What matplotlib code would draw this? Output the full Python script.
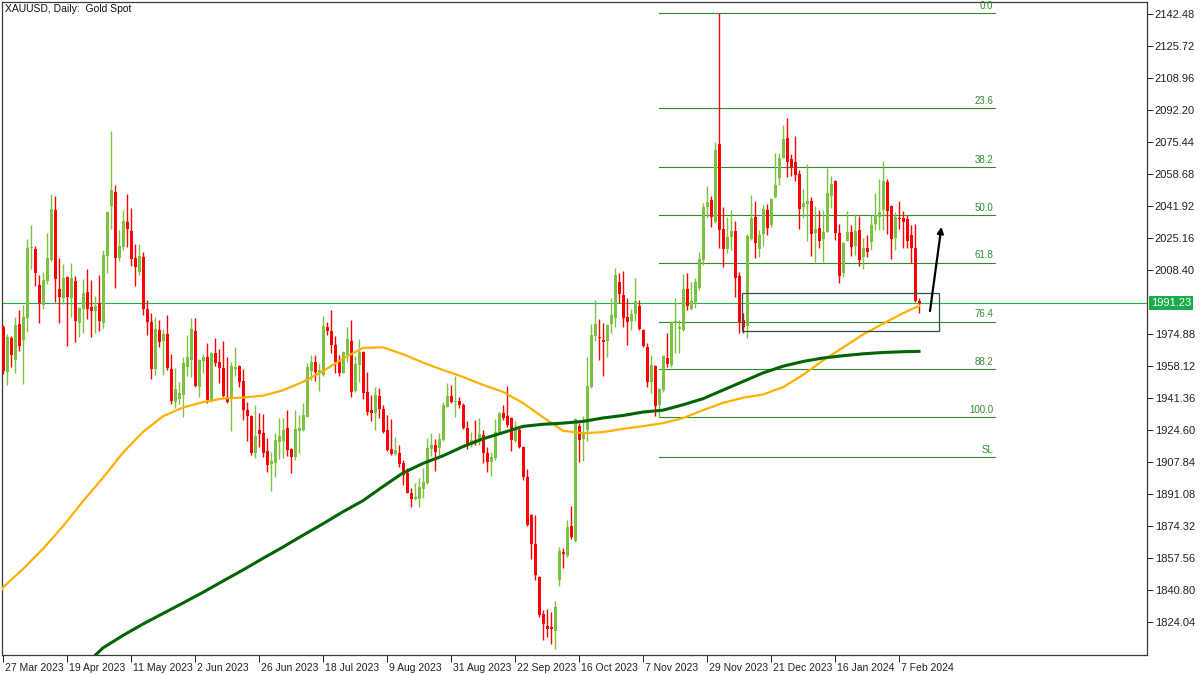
import numpy as np
import matplotlib
matplotlib.use("Agg")
import matplotlib.pyplot as plt
import matplotlib.transforms as mtransforms
from matplotlib.patches import Rectangle

plt.rcParams["font.family"] = ["Liberation Sans", "DejaVu Sans"]

# Daily XAUUSD bars, 27 Mar 2023 .. 14 Feb 2024, ten bars per row
opens = [
    1978.4, 1955.2, 1972.6, 1961.3, 1980.1, 1971.7, 1983.4, 2019.9, 2019.4, 2000.5,
    1990.1, 2002.6, 2013.6, 2039.8, 1998.4, 1993.9, 2004.7, 1993.6, 2002.6, 1980.5,
    1988.0, 1996.7, 1988.8, 1987.1, 1990.9, 1980.5, 2015.9, 2042.1, 2049.4, 2014.9,
    2020.6, 2033.4, 2028.8, 2014.9, 2007.3, 2015.2, 1988.0, 1981.2, 1956.7, 1977.0,
    1971.4, 1974.9, 1956.6, 1939.4, 1941.0, 1942.9, 1957.8, 1961.3, 1976.5, 1947.3,
    1960.7, 1963.0, 1940.3, 1964.7, 1960.2, 1956.9, 1942.1, 1941.7, 1956.5, 1958.1,
    1950.3, 1935.1, 1932.1, 1912.3, 1924.6, 1922.8, 1913.6, 1906.8, 1907.5, 1918.1,
    1919.0, 1925.8, 1914.5, 1910.3, 1924.2, 1924.6, 1931.6, 1955.5, 1960.4, 1955.1,
    1953.4, 1978.4, 1976.4, 1969.1, 1961.3, 1954.6, 1964.0, 1971.2, 1945.2, 1958.6,
    1965.6, 1944.5, 1935.1, 1933.7, 1942.4, 1935.6, 1924.6, 1914.6, 1912.0, 1912.7,
    1907.1, 1901.9, 1891.8, 1888.3, 1888.3, 1893.5, 1896.7, 1914.6, 1916.7, 1915.4,
    1919.4, 1936.8, 1942.4, 1939.1, 1940.0, 1937.7, 1925.5, 1916.7, 1919.4, 1918.5,
    1922.0, 1912.7, 1908.0, 1909.8, 1923.7, 1933.7, 1931.9, 1930.7, 1918.8, 1924.6,
    1915.9, 1900.1, 1880.1, 1864.9, 1847.8, 1828.2, 1821.9, 1821.6, 1819.5, 1846.0,
    1860.9, 1858.6, 1874.3, 1866.6, 1926.7, 1920.0, 1924.6, 1947.3, 1973.8, 1973.0,
    1971.7, 1971.2, 1980.1, 1983.4, 2001.9, 1995.3, 1983.9, 1981.8, 1985.4, 1989.5,
    1977.0, 1967.9, 1949.6, 1958.1, 1937.7, 1945.5, 1962.1, 1958.6, 1980.8, 1977.4,
    1977.0, 1998.4, 1987.9, 1991.8, 1998.8, 2013.6, 2041.2, 2045.1, 2033.7, 2074.4,
    2029.7, 2019.2, 2025.5, 2028.8, 2005.2, 1982.2, 1979.1, 2024.5, 2036.0, 2019.2,
    2027.3, 2039.8, 2031.9, 2046.5, 2056.4, 2067.2, 2077.7, 2066.4, 2064.8, 2058.7,
    2041.6, 2043.0, 2044.5, 2028.0, 2030.6, 2024.5, 2028.5, 2047.3, 2055.0, 2027.6,
    2006.7, 2023.8, 2028.1, 2021.0, 2029.4, 2015.4, 2020.1, 2023.2, 2032.5, 2036.3,
    2039.8, 2054.3, 2041.9, 2025.3, 2035.8, 2035.8, 2035.1, 2026.7, 2020.1, 1992.0,
]
highs = [
    1979.5, 1974.7, 1973.8, 1984.0, 1987.4, 1990.1, 2024.6, 2032.0, 2021.0, 2005.8,
    2007.5, 2028.0, 2048.2, 2047.2, 2014.9, 2011.5, 2005.0, 2011.9, 2005.3, 1989.2,
    2003.7, 2008.9, 2003.2, 1994.8, 2005.8, 2018.9, 2039.5, 2081.2, 2052.9, 2029.4,
    2040.0, 2048.0, 2040.7, 2022.0, 2022.0, 2017.8, 1992.7, 1986.1, 1983.8, 1982.2,
    1977.5, 1984.8, 1964.4, 1956.9, 1949.6, 1963.0, 1974.3, 1983.1, 1983.4, 1961.6,
    1964.4, 1970.0, 1965.6, 1972.9, 1967.0, 1971.2, 1963.0, 1960.0, 1968.2, 1958.6,
    1956.5, 1939.4, 1932.5, 1937.7, 1933.7, 1932.8, 1920.2, 1912.9, 1922.8, 1930.7,
    1930.7, 1935.1, 1915.0, 1935.1, 1932.4, 1938.6, 1959.5, 1963.9, 1963.9, 1959.9,
    1984.3, 1981.3, 1987.4, 1973.8, 1963.9, 1966.1, 1978.5, 1982.2, 1963.4, 1972.1,
    1966.0, 1955.1, 1942.9, 1946.9, 1946.4, 1937.7, 1932.4, 1930.2, 1921.1, 1916.7,
    1908.9, 1904.5, 1894.1, 1896.7, 1899.3, 1904.5, 1920.2, 1923.2, 1919.7, 1923.2,
    1939.4, 1949.0, 1948.2, 1953.0, 1942.1, 1938.6, 1929.3, 1923.7, 1929.8, 1930.7,
    1924.6, 1915.5, 1913.2, 1930.2, 1934.2, 1937.7, 1947.6, 1931.2, 1929.3, 1926.3,
    1916.2, 1904.2, 1880.5, 1880.1, 1848.2, 1830.3, 1830.7, 1829.4, 1835.2, 1863.5,
    1862.6, 1877.4, 1884.8, 1931.1, 1928.1, 1932.0, 1963.0, 1980.1, 1992.7, 1982.7,
    1980.5, 1980.0, 1993.9, 2009.3, 2006.6, 2007.9, 1993.6, 1987.9, 2004.4, 1992.7,
    1977.5, 1970.0, 1963.9, 1958.5, 1946.4, 1963.8, 1975.2, 1981.7, 1993.6, 1982.2,
    2006.1, 2006.6, 2002.3, 2004.0, 2018.0, 2043.3, 2052.4, 2047.1, 2075.6, 2142.8,
    2041.2, 2036.0, 2039.8, 2034.1, 2007.5, 1985.7, 2027.3, 2047.7, 2044.5, 2029.3,
    2042.4, 2043.0, 2045.9, 2069.8, 2069.8, 2084.3, 2087.8, 2069.1, 2078.6, 2060.8,
    2050.6, 2063.9, 2046.8, 2042.1, 2039.8, 2039.8, 2062.0, 2057.8, 2055.5, 2032.3,
    2022.9, 2039.3, 2032.0, 2037.7, 2036.9, 2025.3, 2026.7, 2037.2, 2048.6, 2056.1,
    2065.5, 2056.1, 2042.4, 2038.9, 2044.5, 2039.3, 2037.2, 2032.0, 2032.5, 1993.8,
]
lows = [
    1954.0, 1948.2, 1957.8, 1954.6, 1966.2, 1948.7, 1976.1, 2008.9, 2000.2, 1980.8,
    1988.0, 2000.9, 2013.3, 1991.8, 1980.5, 1990.6, 1968.8, 1984.0, 1970.9, 1973.5,
    1975.6, 1982.7, 1973.5, 1975.6, 1976.6, 1977.9, 2006.7, 2029.7, 1998.8, 2013.1,
    2018.9, 2020.6, 2010.7, 2000.2, 2005.8, 1984.8, 1974.3, 1951.5, 1953.4, 1968.3,
    1953.4, 1956.0, 1938.4, 1936.3, 1938.4, 1931.6, 1953.1, 1952.5, 1947.3, 1942.1,
    1954.3, 1938.6, 1939.4, 1958.1, 1949.0, 1942.1, 1939.0, 1924.3, 1952.9, 1947.3,
    1929.8, 1918.8, 1911.5, 1909.8, 1915.9, 1910.6, 1902.8, 1892.8, 1900.1, 1909.4,
    1909.8, 1911.2, 1902.3, 1908.9, 1912.4, 1924.2, 1931.2, 1950.8, 1950.4, 1945.2,
    1953.0, 1974.4, 1964.7, 1954.3, 1952.9, 1954.3, 1960.0, 1942.1, 1944.7, 1949.9,
    1940.7, 1932.4, 1929.5, 1924.6, 1930.7, 1922.9, 1913.8, 1911.5, 1911.5, 1905.4,
    1895.8, 1891.4, 1884.5, 1887.9, 1884.5, 1888.8, 1896.3, 1911.2, 1903.3, 1911.5,
    1919.0, 1936.5, 1938.9, 1931.6, 1935.9, 1925.0, 1914.6, 1915.9, 1916.7, 1916.7,
    1907.5, 1902.8, 1900.5, 1908.9, 1923.2, 1929.8, 1926.3, 1913.6, 1918.5, 1915.0,
    1898.4, 1874.3, 1857.0, 1846.0, 1826.8, 1814.6, 1816.4, 1812.5, 1809.7, 1842.9,
    1852.5, 1857.9, 1867.3, 1866.0, 1908.0, 1908.5, 1919.0, 1946.8, 1971.2, 1961.3,
    1953.0, 1962.7, 1975.2, 1978.7, 1990.9, 1978.7, 1969.1, 1977.0, 1981.7, 1977.0,
    1968.3, 1947.3, 1943.8, 1932.1, 1931.6, 1944.7, 1957.8, 1957.8, 1964.7, 1964.7,
    1976.4, 1987.4, 1987.4, 1988.3, 1997.9, 2011.0, 2035.4, 2031.1, 2033.0, 2019.7,
    2009.8, 2017.1, 2018.9, 1994.4, 1975.2, 1975.2, 1972.6, 2024.1, 2014.9, 2015.4,
    2021.0, 2026.7, 2031.1, 2045.9, 2052.9, 2066.9, 2057.3, 2057.6, 2055.2, 2029.7,
    2035.5, 2023.8, 2015.7, 2012.8, 2020.1, 2012.8, 2028.1, 2040.7, 2024.1, 2001.4,
    2004.9, 2023.6, 2015.7, 2016.2, 2010.5, 2008.9, 2015.4, 2018.9, 2029.4, 2029.4,
    2029.4, 2027.3, 2014.2, 2018.9, 2029.7, 2019.7, 2019.7, 2011.9, 1991.8, 1985.7,
]
closes = [
    1955.7, 1973.1, 1963.9, 1979.6, 1968.6, 1983.6, 2019.7, 2020.2, 2007.0, 1990.9,
    2003.2, 2014.9, 2040.4, 2003.9, 1994.4, 2004.0, 1994.4, 2004.0, 1981.9, 1988.3,
    1996.2, 1988.0, 1987.1, 1989.5, 1981.9, 2016.2, 2038.6, 2050.3, 2014.9, 2021.0,
    2034.1, 2029.7, 2014.3, 2010.1, 2015.9, 1988.2, 1981.3, 1956.6, 1977.5, 1970.9,
    1974.9, 1957.3, 1939.8, 1946.1, 1944.1, 1959.9, 1963.0, 1977.5, 1947.8, 1961.3,
    1963.0, 1940.3, 1965.1, 1959.9, 1956.9, 1942.4, 1939.4, 1958.1, 1957.7, 1949.9,
    1935.1, 1932.1, 1912.3, 1921.6, 1922.3, 1912.4, 1906.3, 1908.4, 1919.4, 1921.6,
    1924.6, 1914.1, 1910.6, 1925.0, 1925.5, 1932.4, 1957.4, 1960.4, 1955.1, 1956.0,
    1979.1, 1976.6, 1969.1, 1960.0, 1954.3, 1965.3, 1972.1, 1944.7, 1959.2, 1965.6,
    1944.0, 1934.2, 1933.3, 1942.9, 1935.6, 1923.7, 1914.1, 1912.0, 1914.1, 1906.8,
    1901.0, 1891.8, 1888.3, 1889.3, 1894.9, 1897.5, 1915.4, 1916.7, 1913.3, 1919.9,
    1937.7, 1942.4, 1939.4, 1940.0, 1937.7, 1925.5, 1916.7, 1919.4, 1917.6, 1922.3,
    1912.7, 1908.0, 1910.3, 1923.7, 1933.7, 1931.1, 1927.2, 1919.4, 1924.6, 1915.5,
    1899.8, 1874.8, 1864.9, 1848.6, 1827.7, 1823.0, 1820.4, 1820.2, 1832.0, 1861.2,
    1859.6, 1873.9, 1868.7, 1930.2, 1919.4, 1923.5, 1947.6, 1974.4, 1979.9, 1972.6,
    1970.5, 1979.6, 1984.8, 2005.8, 1995.8, 1983.4, 1981.3, 1985.2, 1992.2, 1977.5,
    1968.8, 1949.9, 1958.6, 1937.3, 1945.9, 1963.5, 1959.2, 1981.3, 1981.5, 1978.5,
    1998.4, 1989.7, 1992.2, 2002.3, 2014.0, 2041.2, 2044.2, 2036.0, 2071.2, 2029.3,
    2019.2, 2025.5, 2028.8, 2004.0, 1981.3, 1978.7, 2026.2, 2035.4, 2022.7, 2026.7,
    2040.2, 2030.2, 2045.4, 2052.9, 2067.2, 2076.8, 2065.1, 2062.2, 2058.1, 2040.3,
    2043.3, 2044.7, 2027.3, 2029.9, 2023.8, 2028.1, 2048.6, 2053.4, 2027.6, 2005.4,
    2022.4, 2028.5, 2020.6, 2028.8, 2013.7, 2020.1, 2018.0, 2032.0, 2037.2, 2038.9,
    2055.0, 2039.5, 2024.5, 2036.0, 2034.9, 2033.7, 2023.8, 2019.7, 1992.2, 1991.23,
]

ma_fast_bars = [-1] + list(range(0, 230, 5)) + [229]
ma_fast = [1838.5,
           1842.2, 1851.8, 1862.4, 1874.2, 1887.3, 1899.6, 1912.8, 1923.6, 1931.8, 1936.4,
           1939.2, 1941.1, 1941.6, 1942.6, 1945.4, 1949.8, 1955.4, 1962.0, 1967.6, 1967.9,
           1964.3, 1959.9, 1956.0, 1952.4, 1948.2, 1944.6, 1938.7, 1931.3, 1924.2, 1922.9,
           1923.5, 1925.2, 1926.6, 1928.2, 1930.8, 1935.0, 1938.8, 1941.5, 1943.2, 1947.0,
           1953.5, 1961.0, 1967.8, 1974.6, 1980.3, 1985.8, 1989.6]
ma_slow_bars = [22] + list(range(25, 230, 5)) + [229]
ma_slow = [1804.5,
           1810.5, 1817.0, 1823.0, 1828.5, 1834.0, 1839.6, 1845.5, 1851.3, 1857.4, 1863.3,
           1869.5, 1875.5, 1881.8, 1887.6, 1895.0, 1902.1, 1907.1, 1911.1, 1915.9, 1920.0,
           1923.2, 1926.5, 1927.6, 1928.2, 1929.1, 1930.9, 1932.2, 1934.0, 1935.0, 1937.8,
           1941.0, 1945.5, 1950.0, 1954.5, 1958.0, 1960.5, 1962.3, 1963.5, 1964.5, 1965.2,
           1965.6, 1965.8]

date_ticks = list(range(0, 225, 16))
date_labels = ["27 Mar 2023", "19 Apr 2023", "11 May 2023", "2 Jun 2023", "26 Jun 2023",
               "18 Jul 2023", "9 Aug 2023", "31 Aug 2023", "22 Sep 2023", "16 Oct 2023",
               "7 Nov 2023", "29 Nov 2023", "21 Dec 2023", "16 Jan 2024", "7 Feb 2024"]
price_ticks = [1824.04 + 16.76 * k for k in range(20) if k != 10]

# fibonacci retracement drawn on the chart
fib_high, fib_low = 2143.0, 1931.5
fib_levels = [0.0, 23.6, 38.2, 50.0, 61.8, 76.4, 88.2, 100.0]
fib_sl = 1910.5
fib_start, fib_end = 164, 248
zone_bars = (184.75, 234.0)
zone_prices = (1976.6, 1996.2)
arrow_from = (231.75, 1986.9)
arrow_to = (234.6, 2031.0)

CANDLE_UP = "#7cc242"
CANDLE_DN = "#ff0000"
FIB = "#2e8b2e"

fig = plt.figure(figsize=(12, 6.75), dpi=100, facecolor="white")
ax = fig.add_axes([2 / 1200, 1 - 655 / 675, 1145 / 1200, 653 / 675])
ax.set_xlim(-0.25, 286)
ax.set_ylim(1806.76, 2148.76)

# candles
idx = np.arange(len(closes))
o = np.array(opens)
c = np.array(closes)
cols = [CANDLE_UP if cc >= oo else CANDLE_DN for oo, cc in zip(o, c)]
ax.vlines(idx, lows, highs, colors=cols, linewidth=1.0, zorder=3)
ax.bar(idx, np.maximum(np.abs(c - o), 0.5), bottom=np.minimum(o, c), width=0.75,
       color=cols, linewidth=0, zorder=3)

# moving averages
ax.plot(ma_fast_bars, ma_fast, color="#ffb000", lw=1.6, zorder=4)
ax.plot(ma_slow_bars, ma_slow, color="#006400", lw=2.2, zorder=4)

# current price line
ax.axhline(closes[-1], color="#21b04b", lw=0.8, zorder=1)

# fib levels
for lv in fib_levels:
    p = fib_high - lv / 100 * (fib_high - fib_low)
    ax.plot([fib_start, fib_end], [p, p], color=FIB, lw=0.8, zorder=1)
    ax.text(fib_end - 0.5, p + 1.2, f"{lv:.1f}", color=FIB, fontsize=7,
            ha="right", va="bottom", zorder=5)
ax.plot([fib_start, fib_end], [fib_sl, fib_sl], color=FIB, lw=0.8, zorder=1)
ax.text(fib_end - 0.5, fib_sl + 1.2, "SL", color=FIB, fontsize=7,
        ha="right", va="bottom", zorder=5)

# buy zone + arrow
ax.add_patch(Rectangle((zone_bars[0], zone_prices[0]), zone_bars[1] - zone_bars[0],
                       zone_prices[1] - zone_prices[0], fill=False,
                       edgecolor="#2f4f4f", lw=0.9, zorder=5))
ax.annotate("", xy=arrow_to, xytext=arrow_from,
            arrowprops=dict(arrowstyle="-|>", color="black", lw=1.6,
                            mutation_scale=9, shrinkA=0, shrinkB=0), zorder=6)

# axes styling, MT5 look
for s in ax.spines.values():
    s.set_color("#3a3a3a")
    s.set_linewidth(0.9)
ax.yaxis.tick_right()
ax.set_yticks(price_ticks)
ax.set_yticklabels([f"{t:.2f}" for t in price_ticks])
ax.tick_params(axis="y", length=4, width=0.7, pad=1.5, labelsize=8, colors="#222222")
ax.set_xticks(date_ticks)
ax.set_xticklabels(date_labels)
ax.tick_params(axis="x", length=5, width=0.7, pad=1, labelsize=7.5, colors="#222222")
offset = mtransforms.ScaledTranslation(2 / 100, 0, fig.dpi_scale_trans)
for lbl in ax.get_xticklabels():
    lbl.set_ha("left")
    lbl.set_transform(lbl.get_transform() + offset)

# price tag on the scale
trans = mtransforms.blended_transform_factory(ax.transAxes, ax.transData)
ax.text(1.0035, closes[-1], f"{closes[-1]:.2f}", transform=trans, color="white",
        fontsize=8, ha="left", va="center", clip_on=False, zorder=6,
        bbox=dict(boxstyle="square,pad=0.2", fc="#1aab4a", ec="none"))

ax.text(0.0026, 0.989, "XAUUSD, Daily:  Gold Spot", transform=ax.transAxes,
        fontsize=7.5, ha="left", va="center", color="#111111")

fig.savefig("out.png", dpi=100, facecolor="white")
